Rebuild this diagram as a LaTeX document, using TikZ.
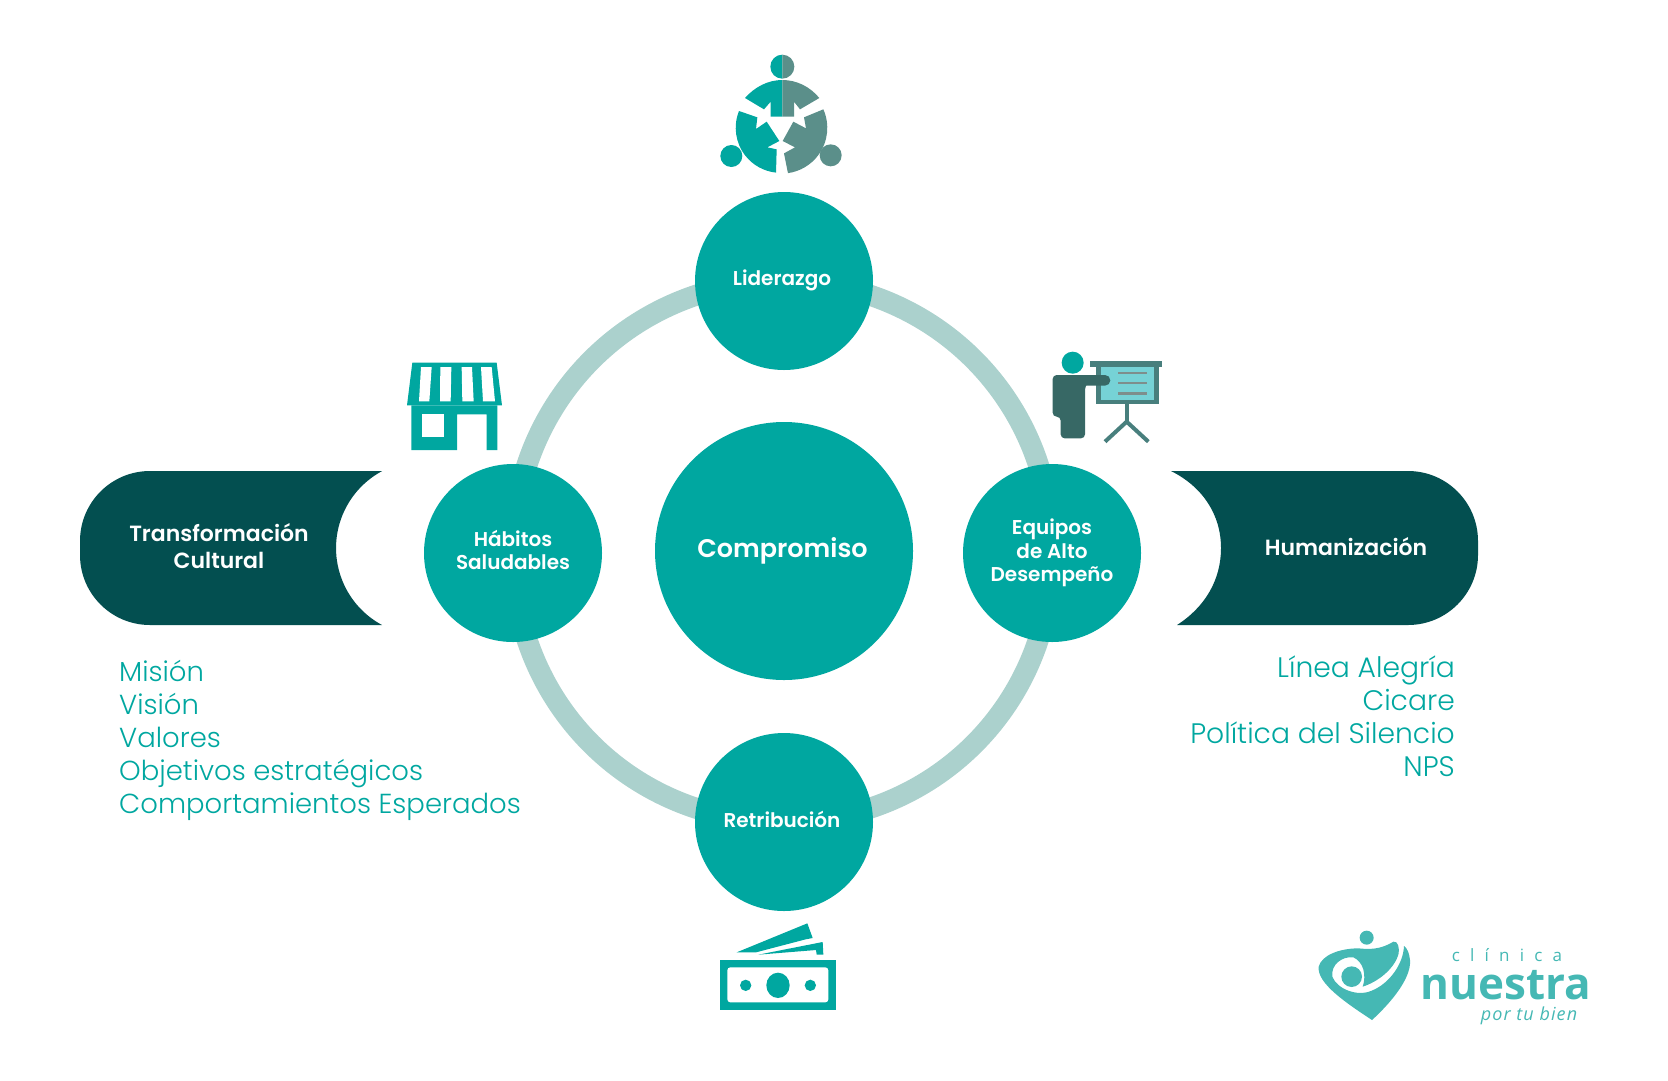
\documentclass[tikz,border=0pt]{standalone}
\usepackage{fontspec}
\setmainfont{Poppins}
\newfontfamily\mediumfont{Poppins SemiBold}
\newfontfamily\lightfont{Poppins Light}
\newfontfamily\logofont{Open Sans}
\newfontfamily\logospaced[LetterSpace=60]{Open Sans}
\newfontfamily\logoitalic[LetterSpace=6]{Open Sans Italic}
\usetikzlibrary{backgrounds}

\definecolor{tealmain}{HTML}{00A7A0}
\definecolor{tealgray}{HTML}{5B8F8A}
\definecolor{tealdark}{HTML}{034F50}
\definecolor{ringcolor}{HTML}{ABD1CD}
\definecolor{logocolor}{HTML}{45B8B4}
\definecolor{personcolor}{HTML}{376865}
\definecolor{boardcolor}{HTML}{487F7D}
\definecolor{screencolor}{HTML}{76D2D6}
\definecolor{linecolor}{HTML}{7E8E8C}

\tikzset{
    hubnode/.style={circle,fill=tealmain,text=white,minimum size=178pt,inner sep=0pt,align=center,
        font=\mediumfont\fontsize{20}{23.5}\selectfont},
    corenode/.style={circle,fill=tealmain,text=white,minimum size=258pt,inner sep=0pt,
        font=\mediumfont\fontsize{25.5}{30}\selectfont},
    pilltext/.style={text=white,align=center,inner sep=0pt,font=\mediumfont\fontsize{22}{26.6}\selectfont},
    listtext/.style={text=tealmain,inner sep=0pt,font=\lightfont\fontsize{27.5}{33}\selectfont},
    ringline/.style={draw=ringcolor,line width=21pt,looseness=1.015},
    icon/.style={shift={(#1)},scale=1/3}
}

\begin{document}
\begin{tikzpicture}[x=1pt,y=1pt,yscale=-1]
    \useasboundingbox (0,0) rectangle (1668,1080);

    \node[corenode] (compromiso) at (784,551) {Compromiso\kern3pt};
    \node[hubnode,text depth=7pt] (liderazgo) at (784,281) {Liderazgo\kern4pt};
    \node[hubnode,text depth=6pt] (habitos) at (513,553) {Hábitos\\Saludables};
    \node[hubnode] (equipos) at (1052,553) {Equipos\\de Alto\\Desempeño};
    \node[hubnode,text depth=6pt] (retribucion) at (784,822) {Retribución\kern4pt};

    \begin{scope}[on background layer]
        \draw[ringline] (liderazgo.center) to[bend left=45] (habitos.center);
        \draw[ringline] (habitos.center) to[bend left=45] (retribucion.center);
        \draw[ringline] (retribucion.center) to[bend left=45] (equipos.center);
        \draw[ringline] (equipos.center) to[bend left=45] (liderazgo.center);
    \end{scope}

    \fill[tealdark] (382,471) -- (150,471) arc[start angle=270,end angle=180,radius=70pt]
        -- (80,555) arc[start angle=180,end angle=90,radius=70pt]
        -- (382,625) arc[start angle=118.3,end angle=241.7,radius=87.4pt] -- cycle;
    \node[pilltext] (transformacion) at (219,546) {Transformación\\Cultural};

    \fill[tealdark] (1171,471) -- (1408,471) arc[start angle=270,end angle=360,radius=70pt]
        -- (1478,555) arc[start angle=0,end angle=90,radius=70pt]
        -- (1177,625) .. controls (1205,607) and (1221,580) .. (1221,548)
        .. controls (1221,515) and (1203,487) .. (1171,471) -- cycle;
    \node[pilltext] (humanizacion) at (1346,547) {Humanización};

    \node[listtext,anchor=west,align=left] (listaizq) at (119,740) {Misión\\Visión\\Valores\\Objetivos estratégicos\\Comportamientos Esperados};
    \node[listtext,anchor=east,align=right,font=\lightfont\fontsize{28.2}{33}\selectfont] (listader) at (1455,716) {Línea Alegría\\Cicare\\Política del Silencio\\NPS};

    \begin{scope}[icon={680,30}]
        \fill[tealmain] (307,74) arc[start angle=270,end angle=90,radius=36pt] -- cycle;
        \fill[tealgray] (307,74) arc[start angle=-90,end angle=90,radius=36pt] -- cycle;
        \fill[tealmain] (195,204) .. controls (225,170) and (265,150) .. (307,150) -- (307,260) -- (272,260) -- (272,215) -- (252,238) -- cycle;
        \fill[tealgray] (307,150) .. controls (350,150) and (390,170) .. (418,204) -- (360,238) -- (342,215) -- (342,260) -- (307,260) -- cycle;
        \fill[tealmain] (177,243) arc[start angle=202,end angle=96,radius=135pt] -- (290,358) -- (262,352) -- (298,333) -- (260,275) -- (228,297) -- (232,262) -- cycle;
        \fill[tealgray] (430,238) arc[start angle=-24,end angle=82,radius=137pt] -- (312,370) -- (345,352) -- (308,333) -- (340,275) -- (378,295) -- (372,262) -- cycle;
        \fill[tealmain] (154,378) circle (33pt);
        \fill[tealgray] (452,376) circle (33pt);
    \end{scope}

    \begin{scope}[icon={380,340}]
        \fill[tealmain] (97,68) -- (350,68) -- (366,196) -- (81,196) -- cycle;
        \fill[white] (123,81) -- (155,81) -- (148,184) -- (117,184) -- cycle;
        \fill[white] (181,81) -- (214,81) -- (212,184) -- (180,184) -- cycle;
        \fill[white] (245,81) -- (276,81) -- (281,184) -- (247,184) -- cycle;
        \fill[white] (303,81) -- (335,81) -- (345,184) -- (309,184) -- cycle;
        \fill[tealmain] (94,196) -- (352,196) -- (352,330) -- (320,330) -- (320,223) -- (231,223) -- (231,330) -- (94,330) -- cycle;
        \fill[white] (125,223) rectangle (193,292);
    \end{scope}

    \begin{scope}[icon={1030,340}]
        \draw[boardcolor,line width=4pt] (290,190) -- (290,245);
        \draw[boardcolor,line width=4pt] (225,305) -- (290,245) -- (355,305);
        \fill[boardcolor] (199,78) rectangle (387,193);
        \fill[screencolor] (212,78) rectangle (373,180);
        \fill[boardcolor] (181,64) rectangle (395,80);
        \fill[linecolor] (265,95) rectangle (350,103);
        \fill[linecolor] (265,125) rectangle (350,133);
        \fill[linecolor] (265,156) rectangle (350,164);
        \fill[tealmain] (128,68) circle (33pt);
        \fill[personcolor,rounded corners=4pt] (68,230) -- (68,105) -- (200,105) -- (165,137) -- (165,295) -- (92,295) -- (92,230) -- cycle;
        \fill[personcolor] (100,105) -- (225,105) arc[start angle=-90,end angle=90,radius=16pt] -- (140,137) -- cycle;
    \end{scope}

    \begin{scope}[icon={700,910}]
        \fill[tealmain] (110,127) -- (322,40) -- (338,84) -- (317,88) -- (168,127) -- cycle;
        \fill[tealmain] (175,134) -- (368,96) -- (370,134) -- (350,134) -- (348,120) -- cycle;
        \fill[tealmain] (59,149) rectangle (408,299);
        \fill[white,rounded corners=3pt] (82,172) rectangle (385,277);
        \fill[tealmain] (234,226) ellipse (35pt and 38pt);
        \fill[tealmain] (137,226) circle (17pt);
        \fill[tealmain] (331,226) circle (17pt);
    \end{scope}

    \begin{scope}[icon={1300,920}]
        \fill[logocolor] (200,53) circle (21pt);
        \fill[logocolor] (155,170) circle (31pt);
        \fill[logocolor] (56,140) .. controls (65,105) and (120,85) .. (175,85) .. controls (205,88) and (240,90) .. (280,65)
            .. controls (295,62) and (298,85) .. (296,100) .. controls (285,145) and (235,185) .. (188,200)
            .. controls (200,165) and (190,125) .. (160,112) .. controls (125,108) and (92,135) .. (97,170)
            .. controls (110,205) and (170,232) .. (215,212) .. controls (270,190) and (310,130) .. (312,78)
            .. controls (322,85) and (328,100) .. (330,120) .. controls (335,180) and (260,260) .. (216,300)
            .. controls (140,250) and (50,190) .. (56,140) -- cycle;
    \end{scope}
    \node[text=logocolor,inner sep=0pt,font=\logospaced\fontsize{17}{17}\selectfont] (clinica) at (1507,955) {clínica};
    \node[text=logocolor,inner sep=0pt,font=\logofont\bfseries\fontsize{44}{44}\selectfont] (nuestra) at (1506,985) {nuestra};
    \node[text=logocolor,inner sep=0pt,font=\logoitalic\fontsize{18}{18}\selectfont] (portubien) at (1529,1016) {por tu bien};
\end{tikzpicture}
\end{document}
